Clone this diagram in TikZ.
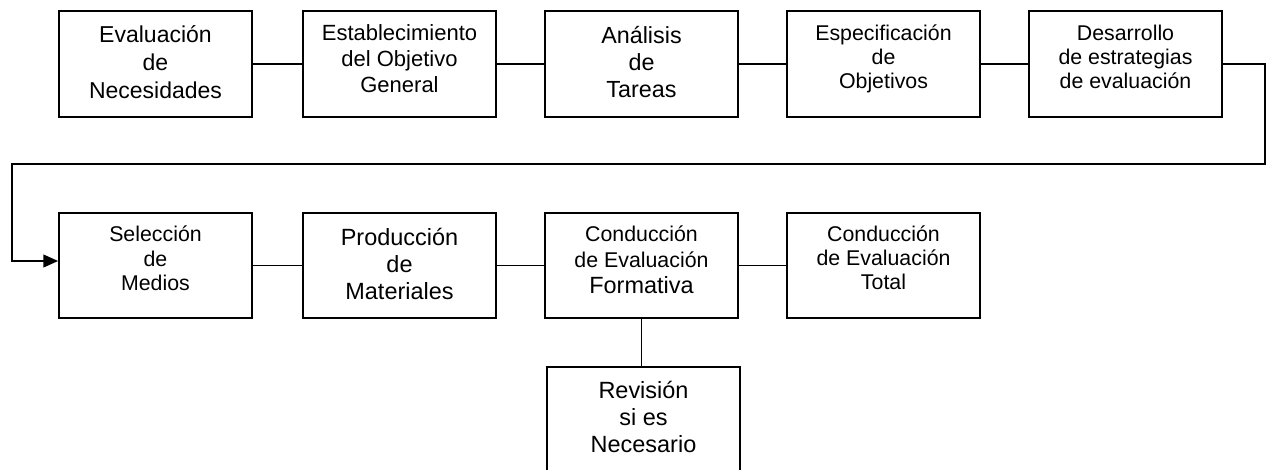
\documentclass[tikz,border=0pt]{standalone}
\usepackage{fontspec}
\setmainfont{Liberation Sans}
\usetikzlibrary{arrows.meta}
\newcommand\myfs[2]{\fontsize{#1}{#2}\selectfont}
\begin{document}
\begin{tikzpicture}[x=0.75pt,y=-0.75pt,
  box/.style={draw, line width=1.3pt, inner sep=0pt, minimum width=144.75pt, minimum height=79pt},
  txt/.style={align=center, inner sep=0pt, anchor=center},
  conn/.style={line width=1.3pt}]
\useasboundingbox (0,0) rectangle (1269,470);
% first row
\node[box] (b1) at (155.5,64) {};
\node[box] (b2) at (399.5,64) {};
\node[box] (b3) at (641.5,64) {};
\node[box] (b4) at (883.5,64) {};
\node[box] (b5) at (1125.5,64) {};
% second row
\node[box] (b6) at (155.5,265.5) {};
\node[box] (b7) at (399.5,265.5) {};
\node[box] (b8) at (641.5,265.5) {};
\node[box] (b9) at (883.5,265.5) {};
% third row
\node[box] (b10) at (643.5,419.5) {};
% texts
\node[txt, font=\myfs{17.25}{21}] (t1) at (155.5,62) {Evaluación\\de\\Necesidades};
\node[txt, font=\myfs{16.5}{19.3}] (t2) at (399.5,58.5) {Establecimiento\\del Objetivo\\General};
\node[txt, font=\myfs{17.5}{20}] (t3) at (641.5,62) {Análisis\\de\\Tareas};
\node[txt, font=\myfs{16}{18}] (t4) at (883.5,58.5) {Especificación\\de\\Objetivos};
\node[txt, font=\myfs{16}{18}] (t5) at (1125.5,57) {Desarrollo\\de estrategias\\de evaluación};
\node[txt, font=\myfs{16}{18.2}] (t6) at (155.5,258.5) {Selección\\de\\Medios};
\node[txt, font=\myfs{17.6}{20}] (t7) at (399.5,264) {Producción\\de\\Materiales};
\node[txt, font=\myfs{16}{19.5}] (t8) at (641.5,259.5) {Conducción\\de Evaluación\\{\myfs{17.6}{19.5}Formativa}};
\node[txt, font=\myfs{16}{18}] (t9) at (883.5,258) {Conducción\\de Evaluación\\Total};
\node[txt, font=\myfs{17.6}{20.6}] (t10) at (643.5,417) {Revisión\\si es\\Necesario};
% connectors
\draw[conn] (b1.east) -- (b2.west);
\draw[conn] (b2.east) -- (b3.west);
\draw[conn] (b3.east) -- (b4.west);
\draw[conn] (b4.east) -- (b5.west);
\draw[conn] (b6.east) -- (b7.west);
\draw[conn] (b7.east) -- (b8.west);
\draw[conn] (b8.east) -- (b9.west);
\draw[conn] (b8.south) -- (b8.south |- b10.north);
\coordinate (r1) at (1265,64);
\coordinate (r2) at (1265,164);
\coordinate (r3) at (12,164);
\coordinate (r4) at (12,261);
\draw[conn, -{Triangle[length=11pt,width=9.5pt]}] (b5.east) -- (r1) -- (r2) -- (r3) -- (r4) -- (r4 -| b6.west);
\end{tikzpicture}
\end{document}
